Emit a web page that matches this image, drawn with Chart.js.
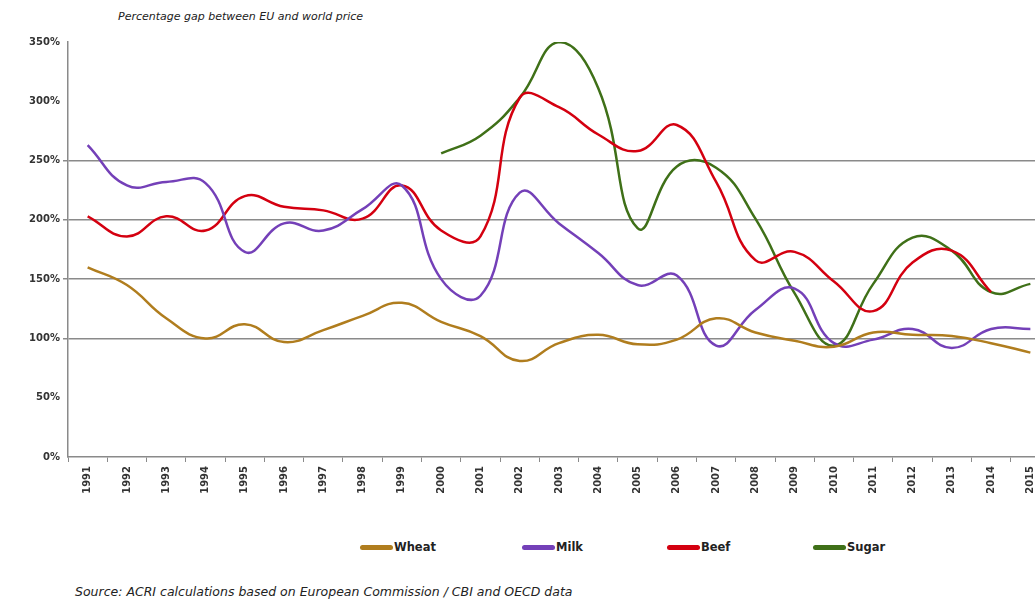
<!DOCTYPE html>
<html>
<head>
<meta charset="utf-8">
<script src="https://cdn.jsdelivr.net/npm/chart.js@4.4.1/dist/chart.umd.min.js"></script>
<style>
  body { margin: 0; background: #fff; overflow: hidden; width: 1035px; height: 600px; position: relative; }
  #wrap { position: absolute; left: 0; top: 0; width: 1055px; height: 520px; }
  .note { position: absolute; font-family: "DejaVu Sans", sans-serif; font-style: italic; color: #222; white-space: nowrap; }
  #legend { position: absolute; left: 0; top: 540px; width: 1035px; height: 16px; font-family: "DejaVu Sans", sans-serif; font-size: 11.5px; font-weight: bold; color: #222; }
  .item { position: absolute; top: 0; display: flex; align-items: center; }
  .swatch { width: 33px; height: 5px; border-radius: 3px; margin-right: 1px; }
</style>
</head>
<body>
<div class="note" style="left:118px; top:10px; font-size:11px;">Percentage gap between EU and world price</div>
<div id="wrap"><canvas id="chartGap" width="1055" height="520"></canvas></div>
<div id="legend"></div>
<div class="note" style="left:75px; top:584px; font-size:12.5px;">Source: ACRI calculations based on European Commission / CBI and OECD data</div>

<script>
// años del eje x
const years = ["1991","1992","1993","1994","1995","1996","1997","1998","1999","2000",
  "2001","2002","2003","2004","2005","2006","2007","2008","2009","2010",
  "2011","2012","2013","2014","2015"];

// valores (% de diferencia precio UE / mundial)
const wheat = [160, 145, 117, 100, 112, 97, 107, 119, 130, 114,
  102, 81, 96, 103, 95, 99, 117, 105, 98, 93,
  105, 103, 102, 96, 88];
const milk = [263, 229, 232, 231, 173, 197, 191, 209, 229, 150,
  136, 223, 197, 172, 145, 153, 94, 124, 142, 96,
  99, 108, 92, 108, 108];
const beef = [203, 186, 203, 191, 220, 211, 208, 201, 229, 191,
  186, 303, 295, 272, 258, 280, 232, 166, 173, 148,
  123, 164, 174, 139, null];
const sugar = [null, null, null, null, null, null, null, null, null, 256,
  271, 303, 350, 311, 193, 245, 244, 201, 138, 94,
  146, 185, 174, 139, 146];

const seriesNames = ["Wheat", "Milk", "Beef", "Sugar"];
const seriesColors = ["#B07D1E", "#7440B8", "#D40010", "#3F7018"];
const legendLeft = [360, 522, 667, 813];

const yTicks = [0, 50, 100, 150, 200, 250, 300, 350];
const gridShown = [100, 150, 200, 250];

const allSeries = [wheat, milk, beef, sugar];

function makeDataset(i) {
  return {
    label: seriesNames[i],
    data: allSeries[i],
    borderColor: seriesColors[i],
    backgroundColor: seriesColors[i],
    borderWidth: 2.5,
    pointRadius: 0,
    fill: false,
    tension: 0.45,
    spanGaps: false,
  };
}

const gridColor = (ctx) => gridShown.includes(ctx.tick && ctx.tick.value) ? "#8a8a8a" : "rgba(0,0,0,0)";

const chart = new Chart(document.getElementById("chartGap").getContext("2d"), {
  type: "line",
  data: {
    labels: years,
    datasets: allSeries.map((_, i) => makeDataset(i)),
  },
  options: {
    responsive: false,
    animation: false,
    layout: { padding: { top: 42, right: 5, bottom: 0, left: 0 } },
    plugins: {
      legend: { display: false },
      tooltip: { enabled: false },
    },
    scales: {
      x: {
        offset: true,
        grid: { offset: true, drawOnChartArea: false, drawTicks: true, tickLength: 5, color: "#8a8a8a" },
        border: { color: "#8a8a8a", width: 1.5 },
        ticks: {
          autoSkip: false,
          minRotation: 90,
          maxRotation: 90,
          padding: 4,
          color: "#333",
          font: { family: "DejaVu Sans", size: 10, weight: "bold" },
        },
        afterFit: (scale) => { scale.height = 63; },
      },
      y: {
        min: 0,
        max: 350,
        afterBuildTicks: (scale) => { scale.ticks = yTicks.map(v => ({ value: v })); },
        grid: { color: gridColor, tickColor: gridColor, tickLength: 5, lineWidth: 1.5 },
        border: { color: "#8a8a8a", width: 1.5 },
        ticks: {
          padding: 3,
          color: "#333",
          font: { family: "DejaVu Sans", size: 10, weight: "bold" },
          callback: (v) => v + "%",
        },
        afterFit: (scale) => { scale.width = 68; },
      },
    },
  },
});

// leyenda HTML para poder colocarla igual que en la referencia
const legendEl = document.getElementById("legend");
seriesNames.forEach((name, i) => {
  const item = document.createElement("div");
  item.className = "item";
  item.style.left = legendLeft[i] + "px";
  const sw = document.createElement("span");
  sw.className = "swatch";
  sw.style.background = seriesColors[i];
  const txt = document.createElement("span");
  txt.textContent = name;
  item.appendChild(sw);
  item.appendChild(txt);
  legendEl.appendChild(item);
});
</script>
</body>
</html>
